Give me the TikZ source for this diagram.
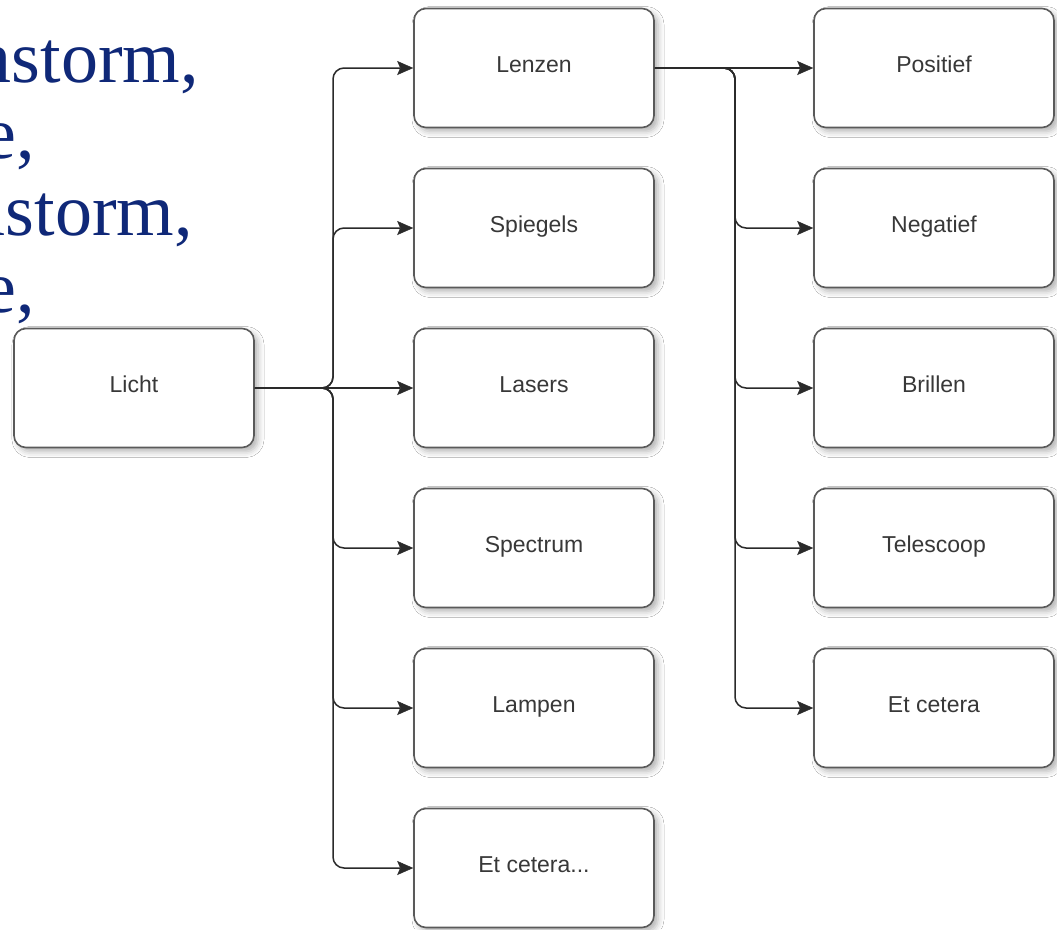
\documentclass[tikz,border=0pt]{standalone}
\usepackage{fontspec}
\setmainfont{Liberation Serif}
\newfontfamily\boxfont{Liberation Sans}
\usetikzlibrary{arrows.meta,shadows.blur}
\definecolor{headblue}{HTML}{0F2878}
\definecolor{boxline}{HTML}{5A5A5A}
\definecolor{linkline}{HTML}{2A2A2A}
\definecolor{labeltext}{HTML}{383838}
\tikzset{
  topic/.style={draw=boxline, line width=1.6pt, fill=white, rounded corners=12pt,
    minimum width=240pt, minimum height=119pt, inner sep=0pt,
    font=\boxfont\fontsize{23}{23}\selectfont, text=labeltext,
    text height=17pt, text depth=9pt,
    blur shadow={shadow xshift=4pt, shadow yshift=-4pt, shadow opacity=30, shadow blur radius=6pt}},
  link/.style={draw=linkline, line width=1.5pt, rounded corners=11pt,
    -{Stealth[length=16pt,width=14pt,inset=3pt,line width=0.5pt]}},
  head/.style={anchor=base east, inner sep=0pt, text=headblue, font=\fontsize{74}{74}\selectfont}
}
\begin{document}
\begin{tikzpicture}[x=1pt,y=-1pt]
  \useasboundingbox (0,0) rectangle (1057,929);
  \fill[white] (0,0) rectangle (1057,929);

  % slide text running in from the left
  \node[head] (h1) at (199,82) {nstorm,};
  \node[head] (h2) at (35,158) {e,};
  \node[head] (h3) at (193,235) {nstorm,};
  \node[head] (h4) at (35,312) {e,};

  % root
  \node[topic] (licht) at (134,388) {Licht};

  % first level
  \node[topic] (lenzen)   at (534,68)  {Lenzen};
  \node[topic] (spiegels) at (534,228) {Spiegels};
  \node[topic] (lasers)   at (534,388) {Lasers};
  \node[topic] (spectrum) at (534,548) {Spectrum};
  \node[topic] (lampen)   at (534,708) {Lampen};
  \node[topic] (etc1)     at (534,868) {Et cetera...};

  % second level under Lenzen
  \node[topic] (positief)  at (934,68)  {Positief};
  \node[topic] (negatief)  at (934,228) {Negatief};
  \node[topic] (brillen)   at (934,388) {Brillen};
  \node[topic] (telescoop) at (934,548) {Telescoop};
  \node[topic] (etc2)      at (934,708) {Et cetera};

  % branch points
  \coordinate (b1) at (333,388);
  \coordinate (b2) at (735,68);

  \foreach \t in {lenzen,spiegels,spectrum,lampen,etc1}
    \draw[link] (licht.east) -- (b1) |- (\t.west);
  \draw[link] (licht.east) -- (lasers.west);

  \draw[link] (lenzen.east) -- (positief.west);
  \foreach \t in {negatief,brillen,telescoop,etc2}
    \draw[link] (lenzen.east) -- (b2) |- (\t.west);
\end{tikzpicture}
\end{document}
